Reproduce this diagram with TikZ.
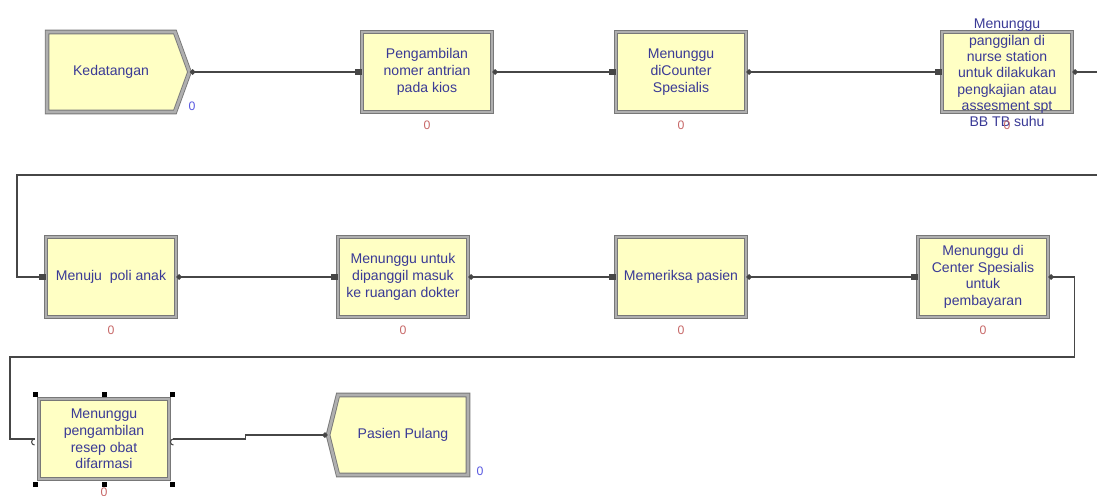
\documentclass[tikz,border=0pt]{standalone}
\usepackage{fontspec}
\setmainfont{Liberation Sans}
\usetikzlibrary{shapes.symbols, arrows.meta, positioning}
\definecolor{arenafill}{RGB}{255,255,196}
\definecolor{arenaedge}{RGB}{120,120,120}
\definecolor{arenabevel}{RGB}{175,175,175}
\definecolor{arenatext}{RGB}{58,58,150}
\definecolor{arenaline}{RGB}{70,70,70}
\definecolor{arenared}{RGB}{200,105,105}
\definecolor{arenablue}{RGB}{90,90,225}

\tikzset{
  module/.style={draw=arenaedge, double=arenabevel, double distance=1.6pt, line width=0.5pt,
    fill=arenafill, minimum width=2.6cm, minimum height=1.6cm, inner sep=1pt, align=center,
    text=arenatext, font=\fontsize{8}{9.5}\selectfont},
  createbox/.style={module, shape=signal, signal to=east, signal pointer angle=140, minimum width=2.85cm},
  disposebox/.style={module, shape=signal, signal to=west, signal pointer angle=152, minimum width=2.8cm},
  flow/.style={draw=arenaline, line width=0.9pt, {Circle[length=3pt]}-{Square[length=3.5pt,width=3.5pt]}},
  cnt/.style={font=\fontsize{7}{8}\selectfont, text=arenared, inner sep=0pt},
  handle/.style={fill=black, minimum size=0.1cm, inner sep=0pt},
}

\begin{document}
\begin{tikzpicture}[x=0.02cm, y=-0.02cm]
    \useasboundingbox (0,0) rectangle (1097,495);
    \clip (0,0) rectangle (1097,495);
    \fill[white] (0,0) rectangle (1097,495);

    % row 1
    \node[createbox] (arrive) at (111,72) {Kedatangan};
    \node[module] (ticket) at (427,72) {Pengambilan\\nomer antrian\\pada kios};
    \node[module] (counter) at (681,72) {Menunggu\\diCounter\\Spesialis};
    \node[module] (nurse) at (1007,72) {};
    \node[align=center, text=arenatext, font=\fontsize{8}{9.3}\selectfont, inner sep=0pt] (nurse-txt) at (1007,73)
        {Menunggu\\panggilan di\\nurse station\\untuk dilakukan\\pengkajian atau\\assesment spt\\BB TB suhu};

    % row 2
    \node[module] (poli) at (111,277) {Menuju\ \ poli anak};
    \node[module] (doctor) at (403,277) {Menunggu untuk\\dipanggil masuk\\ke ruangan dokter};
    \node[module] (exam) at (681,277) {Memeriksa pasien};
    \node[module] (pay) at (983,277) {Menunggu di\\Center Spesialis\\untuk\\pembayaran};

    % row 3
    \node[module] (pharm) at (104,439) {Menunggu\\pengambilan\\resep obat\\difarmasi};
    \node[disposebox] (home) at (403,435) {Pasien Pulang};

    % counters
    \foreach \b in {ticket,counter,nurse,poli,doctor,exam,pay,pharm} {
        \node[cnt, below=0.16cm] (\b-n) at (\b.south) {0};
    }
    \node[cnt, text=arenablue] (arrive-n) at (192,106) {0};
    \node[cnt, text=arenablue] (home-n) at (480,471) {0};

    % connectors
    \coordinate (wrap1) at (17,175);
    \coordinate (wrap2) at (10,357);
    \draw[flow] (arrive.east) -- (ticket.west);
    \draw[flow] (ticket.east) -- (counter.west);
    \draw[flow] (counter.east) -- (nurse.west);
    \draw[flow] (nurse.east) -- ++(60,0) |- (wrap1) |- (poli.west);
    \draw[flow] (poli.east) -- (doctor.west);
    \draw[flow] (doctor.east) -- (exam.west);
    \draw[flow] (exam.east) -- (pay.west);
    \draw[flow, {Circle[length=3pt]}-] (pay.east) -- ++(26,0) |- (wrap2) |- ([xshift=-0.08cm]pharm.west);
    \draw[flow, -{Circle[length=3pt]}] ([xshift=0.08cm]pharm.east) -- ++(72,0) |- (home.west);

    % hooks on the selected module
    \draw[arenaline, line width=0.6pt] ([xshift=-0.08cm]pharm.west) arc (270:450:-0.06cm);
    \draw[arenaline, line width=0.6pt] ([xshift=0.08cm]pharm.east) arc (90:270:0.06cm);

    % selection handles
    \foreach \a/\dx/\dy [count=\i] in {north west/-3/-4, north/0/-4, north east/3/-4,
                                       south west/-3/5, south/0/5, south east/3/5} {
        \node[handle] (handle\i) at ([shift={(\dx,\dy)}]pharm.\a) {};
    }
\end{tikzpicture}
\end{document}
